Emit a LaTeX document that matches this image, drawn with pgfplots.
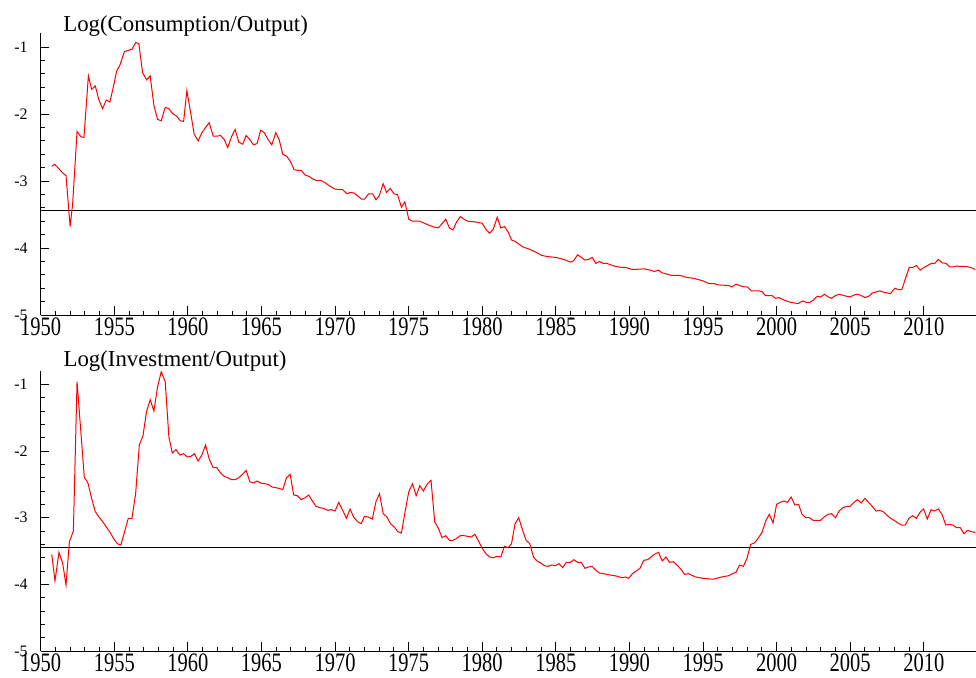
\documentclass[border=0pt]{standalone}
\usepackage{fontspec}
\setmainfont{Liberation Serif}
\usepackage{graphicx}
\usepackage{pgfplots}
\pgfplotsset{compat=1.18}
\pgfplotsset{panel/.style={
  scale only axis, width=467.65pt,
  xmin=1950, xmax=2013.55, ymin=-5,
  axis x line=bottom, axis y line=left,
  axis line style={-, line width=0.5pt, black},
  tick align=inside, major tick length=4.3pt, minor tick length=2pt,
  every tick/.style={black, line width=0.5pt},
  xtick={1950,1955,...,2010}, minor x tick num=4,
  ytick={-5,-4,-3,-2,-1}, minor y tick num=4,
  yticklabels={-5,-4,-3,-2,-1},
  xticklabel={\scalebox{1}[1.3]{\pgfmathprintnumber[fixed,precision=0,1000 sep={},assume math mode=true]{\tick}}},
  xticklabel style={font=\fontsize{10.25}{12}\selectfont, inner sep=1pt},
  yticklabel style={font=\fontsize{8}{9.6}\selectfont, xshift=-3pt},
}}
\begin{document}
\begin{tikzpicture}
\useasboundingbox (0,0) rectangle (488pt,-338.5pt);
\begin{axis}[panel, height=141pt, ymax=-0.79, at={(20.35pt,-157.5pt)}, anchor=south west]
\addplot[black, line width=0.5pt] coordinates {(1950,-3.44) (2013.55,-3.44)};
\addplot[red, line width=0.5pt] table {
1950.75 -2.78
1950.95 -2.75
1951.25 -2.82
1951.45 -2.87
1951.72 -2.92
1952.0 -3.68
1952.17 -3.34
1952.47 -2.26
1952.74 -2.34
1952.94 -2.35
1953.24 -1.43
1953.46 -1.63
1953.71 -1.58
1953.94 -1.78
1954.2 -1.92
1954.46 -1.79
1954.7 -1.82
1954.93 -1.6
1955.16 -1.36
1955.4 -1.26
1955.68 -1.07
1955.95 -1.05
1956.22 -1.03
1956.45 -0.93
1956.67 -0.95
1956.92 -1.38
1957.2 -1.49
1957.44 -1.43
1957.69 -1.87
1957.94 -2.08
1958.19 -2.1
1958.46 -1.9
1958.71 -1.92
1958.96 -1.99
1959.23 -2.03
1959.48 -2.1
1959.71 -2.11
1959.93 -1.65
1960.18 -1.97
1960.43 -2.3
1960.7 -2.4
1960.95 -2.28
1961.2 -2.2
1961.45 -2.13
1961.72 -2.33
1961.97 -2.33
1962.22 -2.32
1962.47 -2.38
1962.71 -2.5
1962.96 -2.34
1963.21 -2.23
1963.46 -2.42
1963.73 -2.45
1963.96 -2.32
1964.21 -2.38
1964.46 -2.46
1964.7 -2.44
1964.95 -2.24
1965.2 -2.28
1965.45 -2.38
1965.7 -2.46
1965.97 -2.28
1966.2 -2.38
1966.45 -2.6
1966.72 -2.63
1966.97 -2.71
1967.22 -2.83
1967.47 -2.84
1967.71 -2.84
1967.96 -2.91
1968.24 -2.93
1968.48 -2.97
1968.73 -2.99
1969.0 -2.99
1969.3 -3.02
1969.6 -3.07
1970.0 -3.12
1970.52 -3.13
1970.81 -3.19
1971.04 -3.17
1971.31 -3.18
1971.53 -3.22
1971.8 -3.27
1972.0 -3.27
1972.28 -3.19
1972.55 -3.19
1972.78 -3.28
1973.0 -3.22
1973.27 -3.04
1973.5 -3.17
1973.75 -3.11
1974.0 -3.19
1974.24 -3.2
1974.51 -3.39
1974.74 -3.31
1975.01 -3.57
1975.26 -3.6
1975.76 -3.6
1976.28 -3.65
1976.5 -3.67
1976.77 -3.69
1977.02 -3.7
1977.25 -3.64
1977.52 -3.57
1977.77 -3.7
1978.01 -3.73
1978.26 -3.61
1978.51 -3.53
1978.76 -3.57
1979.03 -3.6
1979.5 -3.61
1980.0 -3.63
1980.25 -3.72
1980.5 -3.78
1980.75 -3.72
1981.02 -3.54
1981.26 -3.7
1981.51 -3.68
1981.76 -3.76
1981.99 -3.88
1982.23 -3.9
1982.73 -3.98
1983.23 -4.02
1983.72 -4.07
1984.02 -4.11
1984.51 -4.13
1985.01 -4.14
1985.53 -4.17
1986.0 -4.21
1986.21 -4.19
1986.48 -4.1
1986.73 -4.14
1986.98 -4.18
1987.22 -4.17
1987.47 -4.14
1987.72 -4.23
1987.97 -4.2
1988.22 -4.23
1988.47 -4.23
1988.97 -4.27
1989.46 -4.29
1989.73 -4.29
1990.2 -4.32
1990.45 -4.32
1990.95 -4.31
1991.42 -4.33
1991.69 -4.35
1991.98 -4.33
1992.21 -4.37
1992.89 -4.41
1993.46 -4.41
1993.91 -4.44
1994.32 -4.45
1995.0 -4.49
1995.39 -4.53
1995.73 -4.53
1996.02 -4.55
1996.75 -4.56
1996.97 -4.58
1997.24 -4.54
1997.49 -4.56
1997.77 -4.58
1998.02 -4.58
1998.27 -4.64
1998.79 -4.64
1999.01 -4.65
1999.24 -4.71
1999.69 -4.71
1999.92 -4.75
2000.17 -4.74
2000.42 -4.77
2000.94 -4.81
2001.46 -4.83
2001.76 -4.79
2002.01 -4.81
2002.26 -4.81
2002.48 -4.78
2002.76 -4.72
2003.0 -4.73
2003.25 -4.69
2003.5 -4.73
2003.73 -4.75
2004.0 -4.71
2004.25 -4.69
2004.75 -4.72
2005.0 -4.73
2005.27 -4.7
2005.52 -4.69
2005.75 -4.71
2006.02 -4.74
2006.27 -4.72
2006.52 -4.67
2007.02 -4.64
2007.27 -4.66
2007.74 -4.68
2008.04 -4.6
2008.27 -4.62
2008.51 -4.62
2009.01 -4.29
2009.26 -4.29
2009.49 -4.26
2009.76 -4.33
2010.01 -4.29
2010.26 -4.26
2010.51 -4.23
2010.74 -4.23
2010.99 -4.17
2011.24 -4.22
2011.51 -4.23
2011.76 -4.28
2012.01 -4.28
2012.26 -4.27
2013.0 -4.28
2013.3 -4.3
2013.5 -4.32
};
\end{axis}
\begin{axis}[panel, height=140pt, ymax=-0.8, at={(20.35pt,-325.5pt)}, anchor=south west]
\addplot[black, line width=0.5pt] coordinates {(1950,-3.445) (2013.55,-3.445)};
\addplot[red, line width=0.5pt] table {
1950.75 -3.55
1950.97 -3.95
1951.24 -3.52
1951.49 -3.68
1951.72 -4.01
1951.95 -3.36
1952.22 -3.2
1952.47 -0.96
1952.71 -1.66
1952.96 -2.39
1953.21 -2.48
1953.46 -2.71
1953.71 -2.91
1953.96 -2.99
1954.21 -3.06
1954.46 -3.14
1954.71 -3.22
1954.95 -3.31
1955.2 -3.39
1955.45 -3.41
1955.7 -3.21
1955.95 -3.01
1956.2 -3.01
1956.45 -2.64
1956.7 -1.91
1956.95 -1.77
1957.19 -1.41
1957.44 -1.23
1957.69 -1.4
1957.94 -1.04
1958.19 -0.81
1958.46 -0.96
1958.71 -1.79
1958.94 -2.03
1959.19 -1.98
1959.46 -2.06
1959.71 -2.04
1959.95 -2.09
1960.2 -2.08
1960.45 -2.04
1960.7 -2.15
1960.95 -2.06
1961.2 -1.91
1961.45 -2.12
1961.72 -2.25
1961.97 -2.25
1962.22 -2.33
1962.47 -2.38
1962.71 -2.4
1962.96 -2.43
1963.21 -2.43
1963.46 -2.4
1963.71 -2.35
1963.96 -2.29
1964.21 -2.46
1964.46 -2.48
1964.7 -2.45
1964.95 -2.48
1965.45 -2.5
1965.72 -2.54
1966.2 -2.56
1966.45 -2.58
1966.7 -2.4
1966.95 -2.35
1967.19 -2.66
1967.44 -2.67
1967.71 -2.73
1967.96 -2.7
1968.21 -2.66
1968.46 -2.75
1968.71 -2.83
1968.96 -2.85
1969.21 -2.86
1969.5 -2.89
1969.75 -2.88
1970.0 -2.9
1970.25 -2.77
1970.52 -2.89
1970.77 -3.01
1971.02 -2.87
1971.26 -2.99
1971.53 -3.06
1971.78 -3.09
1972.0 -2.98
1972.26 -2.99
1972.53 -3.02
1972.78 -2.76
1973.02 -2.64
1973.27 -2.94
1973.52 -2.99
1973.77 -3.09
1974.02 -3.14
1974.27 -3.21
1974.51 -3.23
1974.76 -2.91
1975.01 -2.61
1975.26 -2.49
1975.51 -2.67
1975.76 -2.52
1976.0 -2.6
1976.28 -2.49
1976.52 -2.44
1976.77 -3.06
1977.02 -3.16
1977.27 -3.3
1977.52 -3.27
1977.77 -3.34
1978.01 -3.34
1978.26 -3.31
1978.51 -3.27
1978.76 -3.27
1979.01 -3.28
1979.25 -3.29
1979.5 -3.25
1979.75 -3.35
1980.0 -3.46
1980.25 -3.54
1980.5 -3.59
1980.75 -3.6
1981.02 -3.58
1981.26 -3.59
1981.51 -3.43
1981.76 -3.45
1981.99 -3.39
1982.23 -3.09
1982.48 -3.0
1982.73 -3.18
1982.98 -3.34
1983.23 -3.39
1983.48 -3.59
1983.72 -3.65
1983.97 -3.68
1984.22 -3.72
1984.47 -3.73
1984.72 -3.71
1984.97 -3.72
1985.21 -3.69
1985.46 -3.75
1985.71 -3.67
1985.98 -3.67
1986.23 -3.63
1986.48 -3.67
1986.73 -3.67
1986.98 -3.76
1987.22 -3.74
1987.47 -3.73
1987.72 -3.79
1987.97 -3.83
1988.47 -3.85
1988.96 -3.87
1989.21 -3.88
1989.46 -3.9
1989.71 -3.89
1989.95 -3.91
1990.2 -3.84
1990.72 -3.76
1990.97 -3.64
1991.22 -3.63
1991.42 -3.6
1991.69 -3.55
1991.98 -3.52
1992.23 -3.65
1992.48 -3.59
1992.73 -3.67
1992.98 -3.66
1993.23 -3.71
1993.48 -3.77
1993.75 -3.85
1994.0 -3.84
1994.5 -3.89
1995.0 -3.91
1995.5 -3.92
1995.75 -3.92
1996.25 -3.89
1996.75 -3.87
1997.0 -3.84
1997.24 -3.82
1997.49 -3.71
1997.74 -3.73
1997.99 -3.61
1998.24 -3.4
1998.49 -3.38
1998.74 -3.31
1999.01 -3.22
1999.26 -3.05
1999.51 -2.95
1999.76 -3.08
2000.0 -2.8
2000.24 -2.77
2000.49 -2.75
2000.74 -2.77
2000.99 -2.69
2001.24 -2.81
2001.49 -2.8
2001.73 -2.95
2001.98 -3.0
2002.23 -3.0
2002.48 -3.04
2002.98 -3.04
2003.23 -2.99
2003.48 -2.95
2003.73 -2.94
2004.0 -3.0
2004.25 -2.9
2004.5 -2.85
2004.75 -2.83
2005.0 -2.83
2005.25 -2.77
2005.5 -2.73
2005.75 -2.78
2006.0 -2.71
2006.25 -2.77
2006.5 -2.83
2006.75 -2.9
2007.0 -2.89
2007.24 -2.91
2007.49 -2.96
2007.74 -3.01
2007.99 -3.04
2008.24 -3.08
2008.49 -3.11
2008.74 -3.11
2008.99 -3.01
2009.24 -2.97
2009.49 -3.01
2009.74 -2.92
2009.99 -2.87
2010.24 -3.02
2010.49 -2.88
2010.74 -2.9
2010.99 -2.87
2011.24 -2.95
2011.49 -3.11
2011.73 -3.1
2011.98 -3.11
2012.23 -3.15
2012.48 -3.15
2012.73 -3.24
2012.98 -3.19
2013.23 -3.21
2013.5 -3.22
};
\end{axis}
\node[anchor=base west, inner sep=0pt, font=\fontsize{11.4}{13}\selectfont] at (31.5pt,-15.85pt) {Log(Consumption/Output)};
\node[anchor=base west, inner sep=0pt, font=\fontsize{11.4}{13}\selectfont] at (31.6pt,-183.3pt) {Log(Investment/Output)};
\end{tikzpicture}
\end{document}
